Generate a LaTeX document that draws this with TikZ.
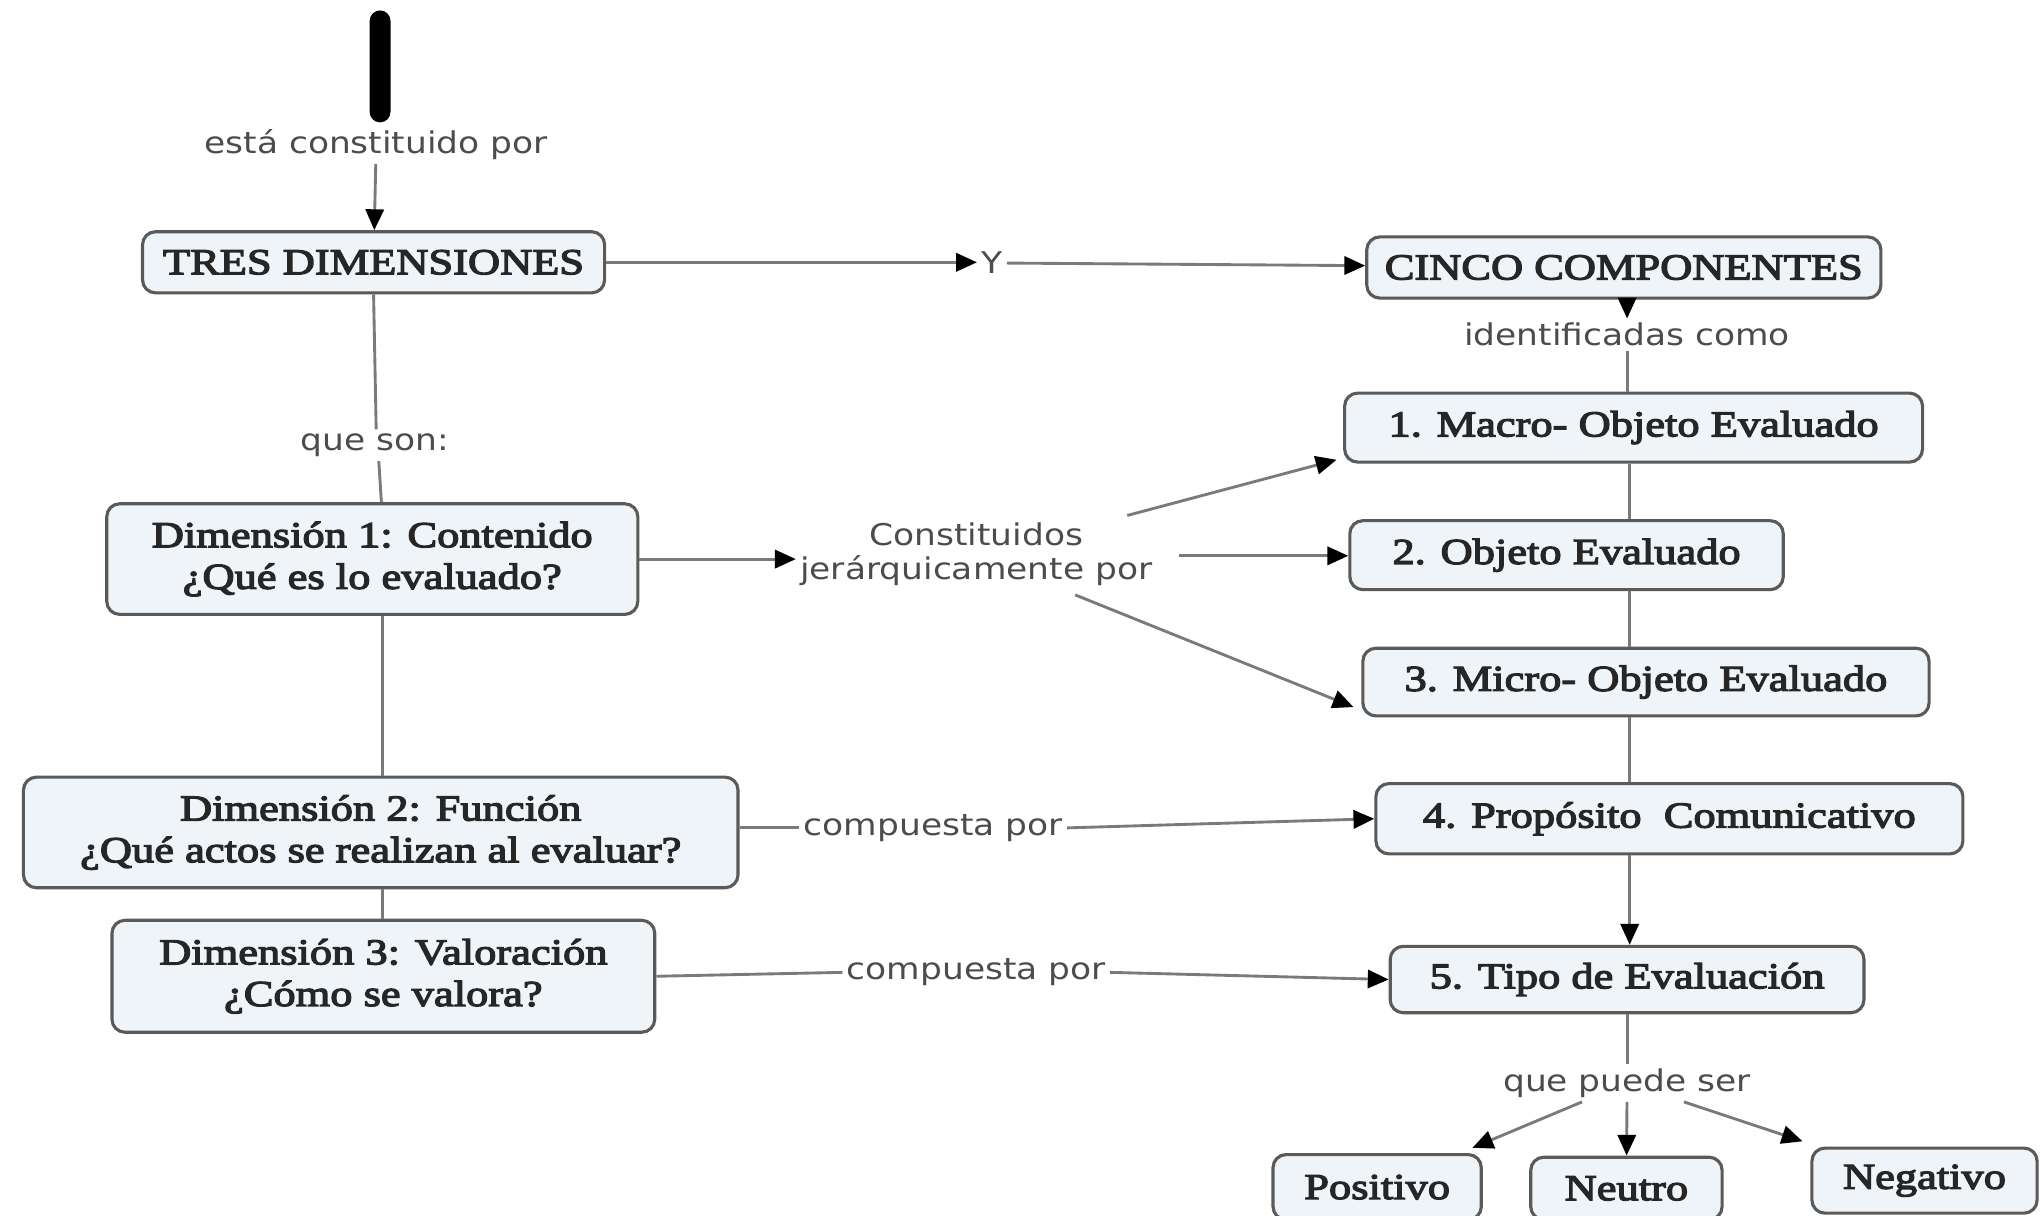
\documentclass[tikz,border=0pt]{standalone}
\usepackage{fontspec}
\newfontfamily\nodefont[FakeStretch=1.22,RawFeature={embolden=3.5}]{Liberation Serif}
\newfontfamily\lblfont[FakeStretch=1.15]{DejaVu Sans}
\usetikzlibrary{arrows.meta,calc}
\definecolor{boxfill}{HTML}{EEF4F7}
\definecolor{boxborder}{HTML}{5A5A5A}
\definecolor{linecol}{HTML}{7A7A7A}
\begin{document}
\begin{tikzpicture}[x=0.5pt,y=-0.5pt,
 concept/.style={draw=boxborder, line width=1.2pt, fill=boxfill, rounded corners=5pt, inner sep=0pt, align=center, font=\nodefont\fontsize{14}{16}\selectfont, text=black!85},
 lbl/.style={inner sep=1.5pt, align=center, font=\lblfont\fontsize{11.5}{13}\selectfont, text=black!70},
 conn/.style={draw=linecol, line width=1.1pt},
 arr/.style={conn, -{Triangle[length=8pt,width=7pt,color=black]}},
]
\path[use as bounding box, clip] (0,0) rectangle (1568,934);
\fill[white] (0,0) rectangle (1568,934);

% nodes
\node[fill=black, rounded corners=4pt, minimum width=8pt, minimum height=43pt, inner sep=0pt] (top) at (292,51) {};
\node[lbl] (est) at (289,111) {está constituido por};
\node[concept, minimum width=177.5pt, minimum height=23.5pt] (tres) at (287,201.5) {TRES DIMENSIONES};
\node[lbl] (y) at (762,202) {Y};
\node[concept, minimum width=197.5pt, minimum height=23.5pt] (cinco) at (1247.5,205.5) {CINCO COMPONENTES};
\node[lbl] (ident) at (1250,257) {identificadas como};
\node[concept, minimum width=222pt, minimum height=26.5pt] (macro) at (1255,328.5) {1. Macro- Objeto Evaluado};
\node[concept, minimum width=166.5pt, minimum height=26.5pt] (obj) at (1203.5,426.5) {2. Objeto Evaluado};
\node[concept, minimum width=217.5pt, minimum height=26pt] (micro) at (1264.5,524) {3. Micro- Objeto Evaluado};
\node[concept, minimum width=225.5pt, minimum height=27pt] (prop) at (1282.5,629) {4. Propósito\ \ Comunicativo};
\node[concept, minimum width=182pt, minimum height=25.5pt] (tipo) at (1250,752.5) {5. Tipo de Evaluación};
\node[lbl] (qps) at (1250,832) {que puede ser};
\node[concept, minimum width=80pt, minimum height=25pt] (pos) at (1058,912) {Positivo};
\node[concept, minimum width=73.5pt, minimum height=24pt] (neu) at (1249.5,913) {Neutro};
\node[concept, minimum width=86.5pt, minimum height=25pt] (neg) at (1478.5,907) {Negativo};
\node[lbl] (queson) at (288,342) {que son:};
\node[concept, minimum width=204pt, minimum height=42.5pt] (d1) at (286,429.5) {Dimensión 1: Contenido\\¿Qué es lo evaluado?};
\node[concept, minimum width=274.5pt, minimum height=42.5pt] (d2) at (292.5,639.5) {Dimensión 2: Función\\¿Qué actos se realizan al evaluar?};
\node[concept, minimum width=208.5pt, minimum height=43pt] (d3) at (294.5,750) {Dimensión 3: Valoración\\¿Cómo se valora?};
\node[lbl] (cons) at (750,426) {Constituidos\\jerárquicamente por};
\node[lbl] (comp2) at (717,636) {compuesta por};
\node[lbl] (comp3) at (750,747) {compuesta por};

% helper coordinates
\coordinate (sp) at (1252,0);
\coordinate (lsp) at (294,0);
\coordinate (c1) at (866,396);
\coordinate (c2) at (906,427);
\coordinate (c3) at (826,457);

% connectors
\draw[arr] (est) -- (tres);
\draw[arr] (tres) -- (tres.east -| y.west);
\draw[arr] (y) -- (cinco);
\draw[arr] (cinco.south -| ident) -- (ident.north);
\draw[conn] (ident.south) -- (ident.south |- macro.north);
\draw[conn] (macro.south -| sp) -- (obj.north -| sp);
\draw[conn] (obj.south -| sp) -- (micro.north -| sp);
\draw[conn] (micro.south -| sp) -- (prop.north -| sp);
\draw[arr] (prop.south -| sp) -- (tipo.north -| sp);
\draw[conn] (tipo.south -| qps) -- (qps.north);
\draw[arr] (qps) -- ($(pos.north east)+(-8,-4)$);
\draw[arr] (qps) -- (neu);
\draw[arr] (qps) -- ($(neg.north west)+(-6,-4)$);

\draw[conn] (tres.south) -- ($(queson.north)+(1,0)$);
\draw[conn] ($(queson.south)+(3,0)$) -- ($(d1.north)+(7,0)$);
\draw[conn] (d1.south -| lsp) -- (d2.north -| lsp);
\draw[conn] (d2.south -| lsp) -- (d3.north -| lsp);
\draw[arr] (d1.east) -- (cons.west |- d1.east);
\draw[arr] (c1) -- ($(macro.south west)+(-5,-3)$);
\draw[arr] (c2) -- (obj.west |- c2);
\draw[arr] (c3) -- ($(micro.south west)+(-6,-8)$);
\draw[conn] (d2.east |- comp2) -- (comp2.west);
\draw[arr] (comp2.east) -- (prop.west);
\draw[conn] (d3.east) -- (comp3.west);
\draw[arr] (comp3.east) -- (tipo.west);
\end{tikzpicture}
\end{document}
